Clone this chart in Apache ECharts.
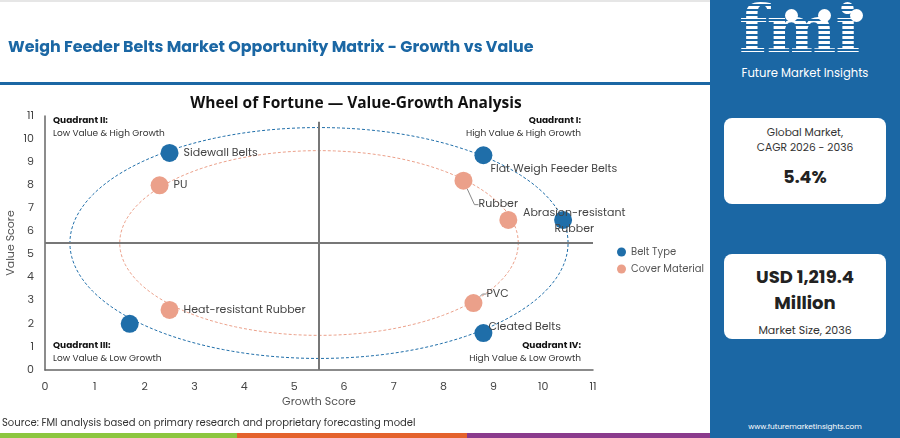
<!DOCTYPE html>
<html>
<head>
<meta charset="utf-8">
<script src="https://cdn.jsdelivr.net/npm/echarts@6/dist/echarts.min.js"></script>
<style>
  html,body{margin:0;padding:0;width:900px;height:438px;overflow:hidden;background:#fff;font-family:'Poppins','Open Sans','Noto Sans',sans-serif;}
  #chart{position:absolute;left:0;top:0;width:900px;height:438px;}
  .abs{position:absolute;}
  #topbar{left:0;top:0;width:710px;height:2px;background:#e6e6e6;}
  #title{left:8px;top:34px;font-size:15.9px;font-weight:700;color:#1b67a4;white-space:nowrap;}
  #rule{left:0;top:82px;width:710px;height:3px;background:#1b67a4;}
  #source{left:2px;top:415px;font-size:10px;color:#333;white-space:nowrap;}
  .strip{top:433px;height:5px;}
  #panel{left:710px;top:0;width:190px;height:438px;background:#1b67a4;}
  #logo{left:739px;top:-4px;font-family:'DejaVu Serif','Liberation Serif',serif;font-weight:900;font-size:66px;line-height:66px;letter-spacing:-1px;
        background:repeating-linear-gradient(to bottom,#fff 0 3px,rgba(255,255,255,0) 3px 5px);-webkit-background-clip:text;background-clip:text;color:transparent;}
  .dot{width:13px;height:13px;border-radius:50%;background:#fff;}
  #fmitext{left:710px;top:65px;width:190px;text-align:center;color:#fff;font-size:11.6px;}
  .card{left:724px;width:162px;background:#fff;border-radius:8px;text-align:center;color:#333;}
  #card1{top:118px;height:86px;}
  #card2{top:254px;height:85px;}
  #web{left:710px;top:421px;width:190px;text-align:center;color:#fff;font-size:7.3px;}
</style>
</head>
<body>
<div id="chart"></div>
<div class="abs" id="topbar"></div>
<div class="abs" id="title">Weigh Feeder Belts Market Opportunity Matrix - Growth vs Value</div>
<div class="abs" id="rule"></div>
<div class="abs" id="source">Source: FMI analysis based on primary research and proprietary forecasting model</div>
<div class="abs strip" style="left:0;width:237px;background:#8cc63f;"></div>
<div class="abs strip" style="left:237px;width:230px;background:#e4622c;"></div>
<div class="abs strip" style="left:467px;width:243px;background:#8a3a8c;"></div>
<div class="abs" id="panel"></div>
<div class="abs" id="logo">fmi</div>
<div class="abs dot" style="left:785px;top:9px;"></div>
<div class="abs dot" style="left:818px;top:9px;"></div>
<div class="abs dot" style="left:850px;top:9px;"></div>
<div class="abs" id="fmitext">Future Market Insights</div>
<div class="abs card" id="card1">
  <div style="font-size:10.7px;margin-top:7px;line-height:15px;">Global Market,<br>CAGR 2026 - 2036</div>
  <div style="font-size:17.5px;font-weight:700;color:#222;margin-top:9px;">5.4%</div>
</div>
<div class="abs card" id="card2">
  <div style="font-size:18px;font-weight:700;color:#222;margin-top:10px;line-height:26px;">USD 1,219.4<br>Million</div>
  <div style="font-size:11px;margin-top:6px;">Market Size, 2036</div>
</div>
<div class="abs" id="web">www.futuremarketinsights.com</div>
<script>
// ---- data ----
const beltTypeNames  = ['Sidewall Belts', 'Flat Weigh Feeder Belts', 'Cleated Belts', 'Belt Type 4', 'Belt Type 5'];
const beltTypeGrowth = [2.5, 8.8, 8.8, 10.4, 1.7];
const beltTypeValue  = [9.4, 9.3, 1.6, 6.5, 2.0];
const beltTypeShowLabel = [true, true, true, false, false];

const coverNames  = ['PU', 'Rubber', 'Abrasion-resistant Rubber', 'Heat-resistant Rubber', 'PVC'];
const coverGrowth = [2.3, 8.4, 9.3, 2.5, 8.6];
const coverValue  = [8.0, 8.2, 6.5, 2.6, 2.9];

const axisTicks = [0,1,2,3,4,5,6,7,8,9,10,11];
const quadrantSplit = 5.5;
const ringCenter = [5.5, 5.5];
const beltRingRadius = 5;
const coverRingRadius = 4;

// ---- layout (not data) ----
const labelOffsets = {
  'Flat Weigh Feeder Belts': {dx: -7, dy: 14},
  'Cleated Belts': {dx: -9, dy: -6},
  'Rubber': {dx: 1, dy: 24},
  'PVC': {dx: -1, dy: -9},
  'Abrasion-resistant Rubber': {dx: 66, dy: 1}
};
const withLine = ['Rubber', 'PVC'];
const BLUE = '#1f6ea9', ORANGE = '#eba08a';
const FONT = 'Poppins, "Open Sans", sans-serif';

function ring(r) {
  const pts = [];
  const n = 160;
  for (let i = 0; i <= n; i++) {
    const t = i / n * Math.PI * 2;
    pts.push([ringCenter[0] + r * Math.cos(t), ringCenter[1] + r * Math.sin(t)]);
  }
  return pts;
}

const beltData = beltTypeNames.map((n, i) => ({
  name: n, value: [beltTypeGrowth[i], beltTypeValue[i]],
  label: {show: beltTypeShowLabel[i]}
}));
const coverData = coverNames.map((n, i) => {
  const item = {name: n, value: [coverGrowth[i], coverValue[i]]};
  if (n === 'Abrasion-resistant Rubber') {
    item.label = {position: 'inside', formatter: 'Abrasion-resistant\nRubber', align: 'center', lineHeight: 16};
  }
  item.labelLine = {show: withLine.indexOf(n) >= 0};
  return item;
});
const allNames = [beltTypeNames, coverNames];

const quadText = (x, y, align, head, sub) => ({
  type: 'group', x: x, y: y,
  children: [
    {type: 'text', style: {text: head, x: 0, y: 0, align: align, verticalAlign: 'middle', font: '700 9px ' + FONT, fill: '#111'}},
    {type: 'text', style: {text: sub, x: 0, y: 13, align: align, verticalAlign: 'middle', font: '9px ' + FONT, fill: '#333'}}
  ]
});

const chart = echarts.init(document.getElementById('chart'));
chart.setOption({
  animation: false,
  textStyle: {fontFamily: FONT},
  grid: {left: 45, right: 307, top: 116, bottom: 68, outerBoundsMode: 'none', containLabel: false},
  legend: {
    orient: 'vertical', left: 617, top: 247, itemGap: 7, padding: 0,
    icon: 'circle', itemWidth: 9, itemHeight: 9,
    textStyle: {fontSize: 10, color: '#555'},
    data: ['Belt Type', 'Cover Material']
  },
  graphic: [
    {type: 'text', x: 356, y: 104, style: {text: 'Wheel of Fortune — Value-Growth Analysis', align: 'center', verticalAlign: 'middle',
      font: '700 15.5px "Open Sans", sans-serif', fill: '#111'}},
    quadText(53, 121, 'left', 'Quadrant II:', 'Low Value & High Growth'),
    quadText(581, 121, 'right', 'Quadrant I:', 'High Value & High Growth'),
    quadText(53, 346, 'left', 'Quadrant III:', 'Low Value & Low Growth'),
    quadText(581, 346, 'right', 'Quadrant IV:', 'High Value & Low Growth')
  ],
  xAxis: {
    type: 'value', min: axisTicks[0], max: axisTicks[axisTicks.length - 1], interval: 1,
    name: 'Growth Score', nameLocation: 'middle', nameGap: 27, nameMoveOverlap: false,
    nameTextStyle: {fontSize: 11, color: '#555'},
    axisLine: {show: true, lineStyle: {color: '#666', width: 1.5}},
    axisTick: {show: false}, splitLine: {show: false},
    axisLabel: {fontSize: 11, color: '#444', margin: 12}
  },
  yAxis: {
    type: 'value', min: axisTicks[0], max: axisTicks[axisTicks.length - 1], interval: 1,
    name: 'Value Score', nameLocation: 'middle', nameGap: 28, nameMoveOverlap: false,
    nameTextStyle: {fontSize: 11, color: '#555'},
    axisLine: {show: true, lineStyle: {color: '#666', width: 1.5}},
    axisTick: {show: false}, splitLine: {show: false},
    axisLabel: {fontSize: 11, color: '#444', margin: 11}
  },
  series: [
    {
      type: 'line', name: 'beltRing', data: ring(beltRingRadius), showSymbol: false, silent: true, z: 1,
      lineStyle: {color: BLUE, width: 1, type: [3, 2]},
      markLine: {
        silent: true, symbol: 'none', label: {show: false},
        lineStyle: {color: '#777', width: 2, type: 'solid'},
        data: [
          [{coord: [quadrantSplit, 0]}, {coord: [quadrantSplit, 10.75]}],
          [{coord: [0, quadrantSplit]}, {coord: [11, quadrantSplit]}]
        ]
      }
    },
    {
      type: 'line', name: 'coverRing', data: ring(coverRingRadius), showSymbol: false, silent: true, z: 1,
      lineStyle: {color: ORANGE, width: 1, type: [3, 2]}
    },
    {
      type: 'scatter', name: 'Belt Type', data: beltData, symbolSize: 18, z: 3,
      itemStyle: {color: BLUE, opacity: 1},
      label: {show: true, position: 'right', distance: 5, formatter: '{b}', fontSize: 11, color: '#444'},
      labelLayout: p => labelOffsets[allNames[0][p.dataIndex]] || {}
    },
    {
      type: 'scatter', name: 'Cover Material', data: coverData, symbolSize: 18, z: 3,
      itemStyle: {color: ORANGE, opacity: 1},
      label: {show: true, position: 'right', distance: 5, formatter: '{b}', fontSize: 11, color: '#444'},
      labelLine: {show: true, length2: 4, lineStyle: {color: '#888', width: 1}},
      labelLayout: p => labelOffsets[allNames[1][p.dataIndex]] || {}
    }
  ]
});
</script>
</body>
</html>
